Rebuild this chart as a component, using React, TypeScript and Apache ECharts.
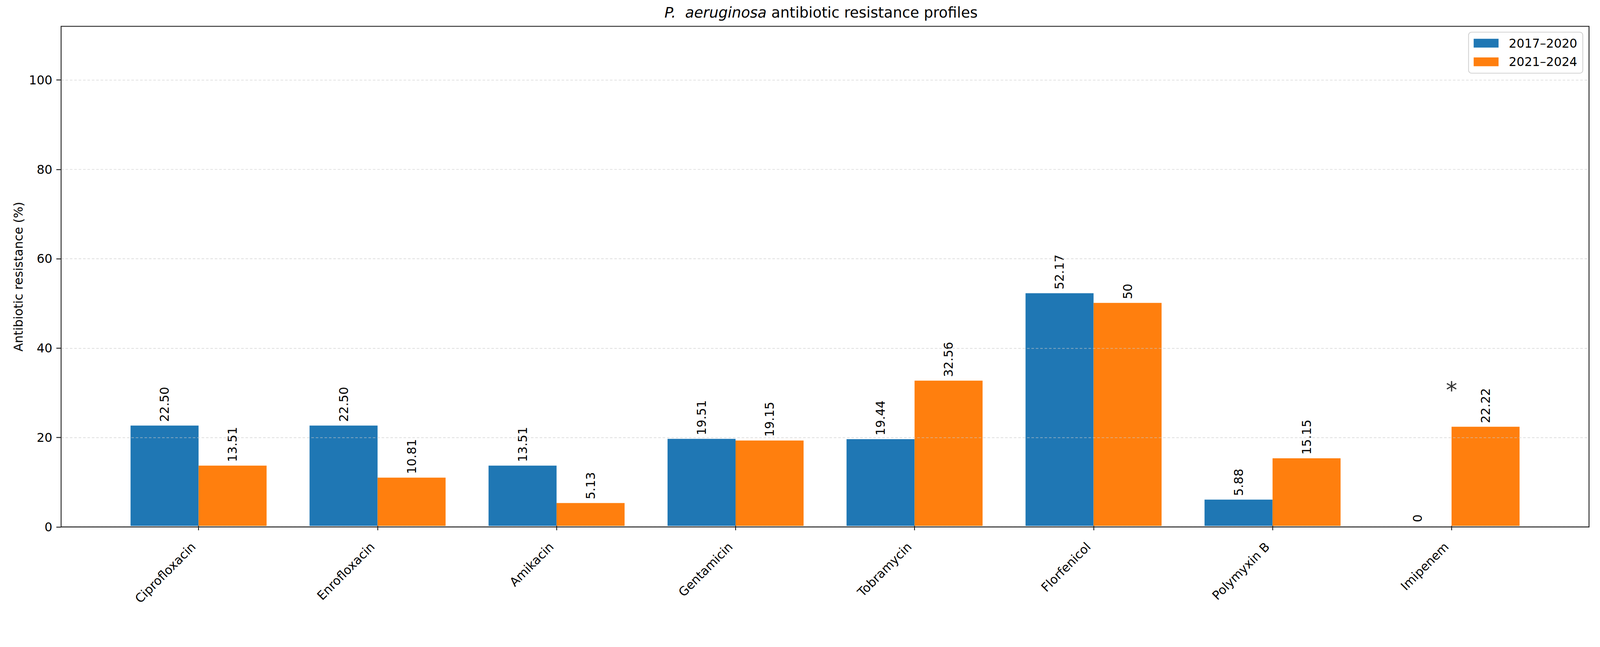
import { useEffect, useRef } from 'react';
import * as echarts from 'echarts';

const categories = ['Ciprofloxacin', 'Enrofloxacin', 'Amikacin', 'Gentamicin', 'Tobramycin', 'Florfenicol', 'Polymyxin B', 'Imipenem'];
const seriesNames = ['2017–2020', '2021–2024'];
const values2017_2020 = [22.5, 22.5, 13.51, 19.51, 19.44, 52.17, 5.88, 0];
const values2021_2024 = [13.51, 10.81, 5.13, 19.15, 32.56, 50, 15.15, 22.22];
const yTicks = [0, 20, 40, 60, 80, 100];
const yMax = 112;
const significanceMarks = [{ category: 'Imipenem', y: 30.4, mark: '*' }];

const FONT = 'DejaVu Sans';
const W = 4373;
const H = 1656;
// plot frame
const PL = 167, PR = 4343, PT = 72, PB = 1440;
// x data range (matplotlib margins)
const XMIN = -0.768, XMAX = 7.768;
const unit = (PR - PL) / (XMAX - XMIN);
const bandLeft = PL + (-0.5 - XMIN) * unit;
const bandRight = PL + (categories.length - 0.5 - XMIN) * unit;
const barW = 0.38 * unit;

const fmt = (v: number) => (Number.isInteger(v) ? String(v) : v.toFixed(2));

export default function App() {
  const ref = useRef<HTMLDivElement>(null);
  const vw = typeof window !== 'undefined' ? window.innerWidth : W;
  const vh = typeof window !== 'undefined' ? window.innerHeight : H;
  const s = Math.min(1, vw / W, vh / H);
  useEffect(() => {
    document.body.style.margin = '0';
    document.body.style.overflow = 'hidden';
    const chart = echarts.init(ref.current!, null, { renderer: 'svg' });
    const labelCfg = {
      show: true,
      position: 'top',
      rotate: 90,
      align: 'left',
      verticalAlign: 'middle',
      distance: 10,
      fontFamily: FONT,
      fontSize: 33.5,
      color: '#000',
      formatter: (p: any) => fmt(p.value),
    };
    chart.setOption({
      animation: false,
      backgroundColor: '#fff',
      textStyle: { fontFamily: FONT },
      title: {
        text: '{i|P.  aeruginosa} antibiotic resistance profiles',
        left: 1816,
        top: 14,
        padding: 0,
        textStyle: {
          fontFamily: FONT,
          fontSize: 40,
          fontWeight: 'normal',
          color: '#000',
          rich: { i: { fontFamily: FONT, fontSize: 40, fontStyle: 'italic', color: '#000' } },
        },
      },
      legend: {
        data: seriesNames,
        orient: 'vertical',
        right: W - 4326,
        top: 88,
        itemWidth: 68,
        itemHeight: 24,
        itemGap: 17,
        icon: 'rect',
        selectedMode: false,
        padding: [13, 15, 14, 14],
        backgroundColor: '#fff',
        borderColor: '#cccccc',
        borderWidth: 2,
        borderRadius: 8,
        textStyle: { fontFamily: FONT, fontSize: 33.5, color: '#000', padding: [0, 0, 0, 23] },
      },
      grid: [
        { left: PL, top: PT, width: PR - PL, height: PB - PT, show: true, borderColor: '#262626', borderWidth: 2.5, backgroundColor: 'transparent', z: 10 },
        { left: bandLeft, top: PT, width: bandRight - bandLeft, height: PB - PT },
      ],
      xAxis: [
        { gridIndex: 0, type: 'value', min: 0, max: 1, show: false },
        {
          gridIndex: 1,
          type: 'category',
          data: categories,
          boundaryGap: true,
          axisLine: { show: false },
          axisTick: { show: true, alignWithLabel: true, length: 12, lineStyle: { color: '#222', width: 2.5 } },
          axisLabel: {
            rotate: 45,
            margin: 37,
            padding: [0, 20, 0, 0],
            fontFamily: FONT,
            fontSize: 33.5,
            color: '#000',
            interval: 0,
          },
          splitLine: { show: false },
        },
      ],
      yAxis: [
        {
          gridIndex: 0,
          type: 'value',
          min: 0,
          max: yMax,
          z: 5,
          name: 'Antibiotic resistance (%)',
          nameLocation: 'middle',
          nameGap: 100,
          nameTextStyle: { fontFamily: FONT, fontSize: 33.5, color: '#000' },
          axisLine: { show: false },
          axisTick: { show: true, length: 13, customValues: yTicks, lineStyle: { color: '#222', width: 2.5 } },
          axisLabel: { customValues: yTicks, margin: 24, fontFamily: FONT, fontSize: 33.5, color: '#000' },
          splitLine: { show: true, lineStyle: { color: 'rgba(200,200,200,0.6)', width: 2, type: [7, 5] } },
        },
        { gridIndex: 1, type: 'value', min: 0, max: yMax, show: false, splitLine: { show: false } },
      ],
      series: [
        {
          name: seriesNames[0],
          type: 'bar',
          xAxisIndex: 1,
          yAxisIndex: 1,
          data: values2017_2020,
          barWidth: barW,
          barGap: '0%',
          itemStyle: { color: '#1f77b4' },
          label: labelCfg,
        },
        {
          name: seriesNames[1],
          type: 'bar',
          xAxisIndex: 1,
          yAxisIndex: 1,
          data: values2021_2024,
          barWidth: barW,
          barGap: '0%',
          itemStyle: { color: '#ff7f0e' },
          label: labelCfg,
        },
        {
          name: 'significance',
          type: 'scatter',
          xAxisIndex: 1,
          yAxisIndex: 1,
          symbolSize: 1,
          itemStyle: { color: 'rgba(0,0,0,0)' },
          data: significanceMarks.map((m) => ({ value: [m.category, m.y], mark: m.mark })),
          label: {
            show: true,
            position: 'inside',
            formatter: (p: any) => p.data.mark,
            fontFamily: FONT,
            fontSize: 62,
            color: '#000',
          },
          z: 6,
        },
      ],
    });
    return () => chart.dispose();
  }, []);
  return (
    <div style={{ width: W * s, height: H * s, overflow: 'hidden' }}>
      <div ref={ref} style={{ width: W, height: H, transform: `scale(${s})`, transformOrigin: '0 0' }} />
    </div>
  );
}
